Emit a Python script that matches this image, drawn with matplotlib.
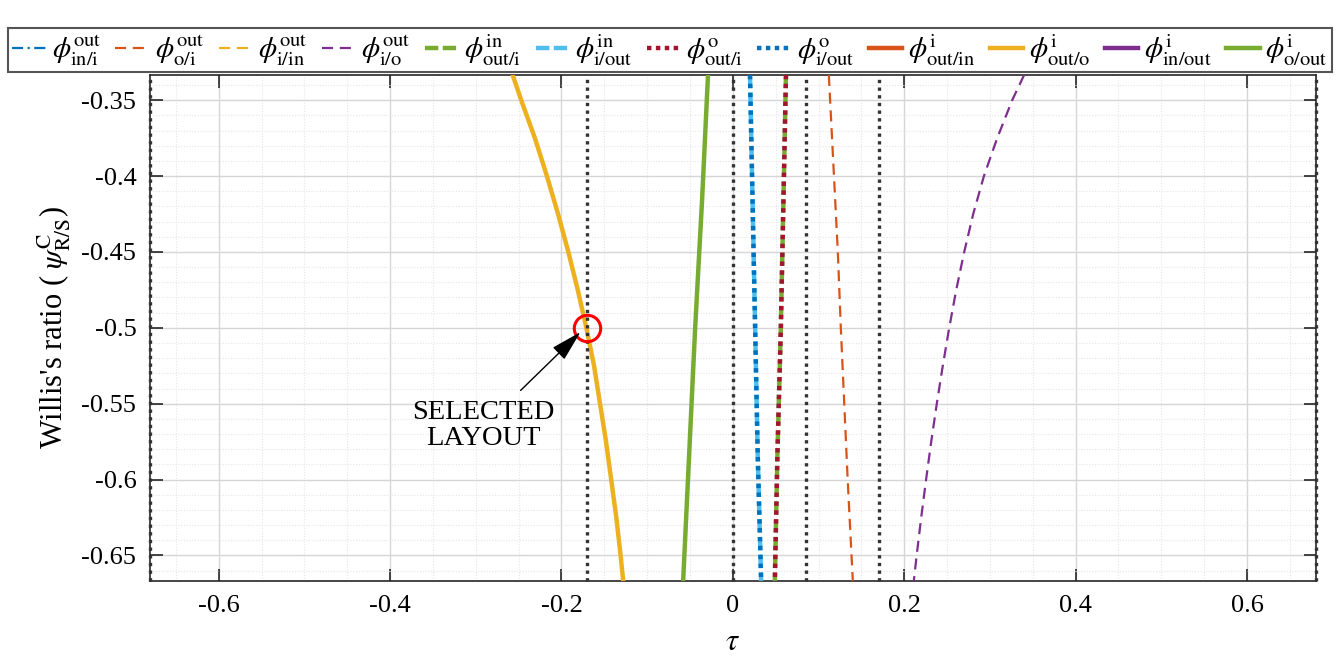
import numpy as np
import matplotlib.pyplot as plt
from matplotlib.ticker import MultipleLocator

plt.rcParams['font.family'] = ['Liberation Serif', 'DejaVu Serif']
plt.rcParams['mathtext.fontset'] = 'stix'

# Willis ratio samples (y) and tau (x) for every visible curve
psi_yel = [-0.3333, -0.35, -0.375, -0.40, -0.425, -0.45, -0.475, -0.50,
           -0.525, -0.55, -0.575, -0.60, -0.625, -0.65, -0.6667]
tau_yel = [-0.257, -0.247, -0.231, -0.217, -0.204, -0.192, -0.181, -0.171,
           -0.162, -0.155, -0.148, -0.142, -0.136, -0.131, -0.128]

psi_grn = [-0.3333, -0.4167, -0.50, -0.5833, -0.6667]
tau_grn = [-0.029, -0.036, -0.044, -0.051, -0.058]

psi_blu = [-0.3333, -0.4167, -0.50, -0.5833, -0.6667]
tau_blu = [0.020, 0.023, 0.026, 0.029, 0.033]

psi_red = [-0.3333, -0.4167, -0.50, -0.5833, -0.6667]
tau_red = [0.062, 0.059, 0.056, 0.052, 0.049]

psi_org = [-0.3333, -0.40, -0.45, -0.50, -0.55, -0.60, -0.6667]
tau_org = [0.112, 0.118, 0.1225, 0.126, 0.130, 0.134, 0.140]

psi_pur = [-0.3333, -0.35, -0.375, -0.40, -0.425, -0.45, -0.475, -0.50,
           -0.525, -0.55, -0.575, -0.60, -0.625, -0.65, -0.6667]
tau_pur = [0.340, 0.326, 0.3085, 0.293, 0.2805, 0.270, 0.2607, 0.2525,
           0.2450, 0.238, 0.2315, 0.2255, 0.2198, 0.2145, 0.2112]

# tau limits shown as black dotted verticals
tau_marks = [-0.68, -0.17, 0.0, 0.085, 0.17, 0.68]
sel_tau, sel_psi = -0.17, -0.5

labels = [r'$\phi^{\mathrm{out}}_{\mathrm{in/i}}$', r'$\phi^{\mathrm{out}}_{\mathrm{o/i}}$',
          r'$\phi^{\mathrm{out}}_{\mathrm{i/in}}$', r'$\phi^{\mathrm{out}}_{\mathrm{i/o}}$',
          r'$\phi^{\mathrm{in}}_{\mathrm{out/i}}$', r'$\phi^{\mathrm{in}}_{\mathrm{i/out}}$',
          r'$\phi^{\mathrm{o}}_{\mathrm{out/i}}$', r'$\phi^{\mathrm{o}}_{\mathrm{i/out}}$',
          r'$\phi^{\mathrm{i}}_{\mathrm{out/in}}$', r'$\phi^{\mathrm{i}}_{\mathrm{out/o}}$',
          r'$\phi^{\mathrm{i}}_{\mathrm{in/out}}$', r'$\phi^{\mathrm{i}}_{\mathrm{o/out}}$']

C_BLUE = '#0072BD'
C_ORNG = '#D95319'
C_YELL = '#EDB120'
C_PURP = '#7E2F8E'
C_GREN = '#77AC30'
C_LBLU = '#4DBEEE'
C_RED = '#A2142F'

fig = plt.figure(figsize=(13.41, 6.57), dpi=100)
ax = fig.add_axes([0.112, 0.116, 0.869, 0.770])

thin = 1.6
thick = 3.2
# (tau, psi, colour, style, width) in legend order; empty = outside the window / hidden
series = [
    ([], [], C_BLUE, (0, (5, 2, 1, 2)), thin),
    (tau_org, psi_org, C_ORNG, (0, (5, 3)), thin),
    ([], [], C_YELL, (0, (5, 3)), thin),
    (tau_pur, psi_pur, C_PURP, (0, (5, 3)), thin),
    (tau_red, psi_red, C_GREN, (0, (3, 1)), thick),
    (tau_blu, psi_blu, C_LBLU, (0, (3, 1)), thick),
    (tau_red, psi_red, C_RED, (0, (1, 1)), thick),
    (tau_blu, psi_blu, C_BLUE, (0, (1, 1)), thick),
    ([], [], C_ORNG, '-', thick),
    (tau_yel, psi_yel, C_YELL, '-', thick),
    ([], [], C_PURP, '-', thick),
    (tau_grn, psi_grn, C_GREN, '-', thick),
]
handles = []
for (t, p, c, ls, lw), lab in zip(series, labels):
    h, = ax.plot(t, p, color=c, linestyle=ls, linewidth=lw, label=lab, zorder=3)
    handles.append(h)

for t in tau_marks:
    ax.axvline(t, color='#333333', linestyle=(0, (1, 1.3)), linewidth=2.4, zorder=4,
               clip_on=False)

ax.plot(sel_tau, sel_psi, 'o', markersize=19, markerfacecolor='none',
        markeredgecolor='red', markeredgewidth=2.2, zorder=5)
ax.annotate('', xy=(-0.1755, -0.5015), xytext=(-0.25, -0.5425),
            arrowprops=dict(arrowstyle='-|>,head_length=0.75,head_width=0.2',
                            mutation_scale=26, lw=1.0, color='k'),
            zorder=6)
ax.text(-0.291, -0.5646, 'SELECTED\nLAYOUT', fontsize=20.5, ha='center', va='center',
        linespacing=1.05)

ax.set_xlim(-0.68, 0.68)
ax.set_ylim(-2 / 3, -1 / 3)
ax.set_xticks([-0.6, -0.4, -0.2, 0, 0.2, 0.4, 0.6])
ax.set_xticklabels(['-0.6', '-0.4', '-0.2', '0', '0.2', '0.4', '0.6'])
ax.set_yticks([-0.35, -0.4, -0.45, -0.5, -0.55, -0.6, -0.65])
ax.set_yticklabels(['-0.35', '-0.4', '-0.45', '-0.5', '-0.55', '-0.6', '-0.65'])
ax.xaxis.set_minor_locator(MultipleLocator(0.05))
ax.yaxis.set_minor_locator(MultipleLocator(0.01))
ax.grid(which='major', color='#d6d6d6', linewidth=1.0, zorder=0)
ax.grid(which='minor', color='#e6e6e6', linestyle=(0, (1, 1.5)), linewidth=0.8, zorder=0)
ax.set_axisbelow(True)
ax.tick_params(which='major', direction='in', length=9, width=1.2, top=True, right=True,
               labelsize=19, colors='#262626', labelcolor='k', pad=10)
ax.tick_params(which='minor', length=0)
for s in ax.spines.values():
    s.set_color('#262626')
    s.set_linewidth(1.2)

ax.set_xlabel(r'$\tau$', fontsize=22, labelpad=8)
ax.set_ylabel(r"Willis's ratio ( $\psi^{\mathrm{C}}_{\mathrm{R/S}}$)", fontsize=22, labelpad=6)

leg = fig.legend(handles=handles, loc='lower left', ncol=12, mode='expand',
                 bbox_to_anchor=(8 / 1341, 1 - 72 / 657, 1324 / 1341, 50 / 657),
                 fontsize=21, handlelength=1.15, handletextpad=0.2, columnspacing=0.25,
                 borderaxespad=0, borderpad=0.15, fancybox=False, framealpha=1)
leg.get_frame().set_edgecolor('#555555')
leg.get_frame().set_linewidth(1.5)

fig.savefig('out.png', dpi=100)
